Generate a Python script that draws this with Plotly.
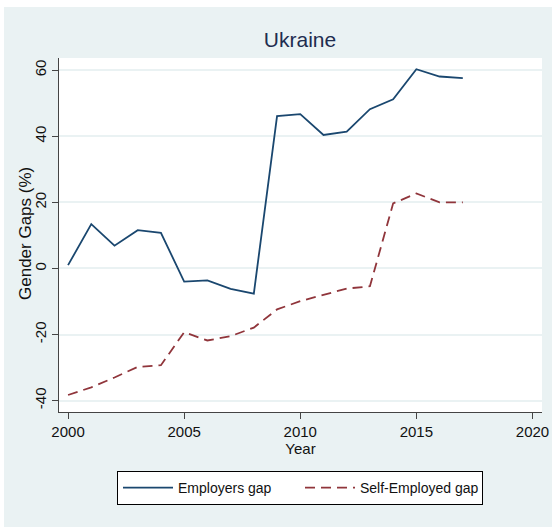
import plotly.graph_objects as go

years = list(range(2000, 2018))
employers_gap = [1.0, 13.4, 6.9, 11.6, 10.8, -4.0, -3.6, -6.2, -7.6, 46.1, 46.7,
                 40.4, 41.4, 48.2, 51.2, 60.3, 58.1, 57.6]
self_employed_gap = [-38.3, -36.0, -33.0, -29.8, -29.3, -19.3, -21.8, -20.5, -17.9,
                     -12.4, -9.9, -8.1, -6.1, -5.4, 19.7, 22.7, 20.0, 20.0]
x_ticks = [2000, 2005, 2010, 2015, 2020]
y_ticks = [-40, -20, 0, 20, 40, 60]
y_tick_text = ["-40", "-20", "0", "20", "40", "60"]

FONT = "Liberation Sans, Arial, sans-serif"
BG = "#EAF2F3"

fig = go.Figure()
fig.add_trace(go.Scatter(x=years, y=employers_gap, mode="lines", name="Employers gap",
                         line=dict(color="#1a476f", width=1.8)))
fig.add_trace(go.Scatter(x=years, y=self_employed_gap, mode="lines", name="Self-Employed gap",
                         line=dict(color="#90353b", width=1.8, dash="10px,6px")))

W, H = 552, 527
L, R, T, B = 59, 10, 58, 115
pw, ph = W - L - R, H - T - B

def px2paper_x(px):
    return (px - L) / pw

def px2paper_y(py):
    return (H - B - py) / ph

fig.add_shape(type="rect", xref="paper", yref="paper", layer="below",
              x0=px2paper_x(4), x1=px2paper_x(553), y0=px2paper_y(528), y1=px2paper_y(7),
              fillcolor=BG, line=dict(width=0))
fig.add_shape(type="rect", xref="paper", yref="paper", layer="below",
              x0=0, x1=1, y0=0, y1=1, fillcolor="white", line=dict(width=0))

fig.add_annotation(text="Gender Gaps (%)", xref="paper", yref="paper",
                   x=px2paper_x(25), y=px2paper_y(234), xanchor="center", yanchor="middle",
                   textangle=-90, showarrow=False,
                   font=dict(size=17, family=FONT, color="#111111"))

fig.update_layout(
    width=W, height=H,
    margin=dict(l=L, r=R, t=T, b=B, autoexpand=False),
    paper_bgcolor="white", plot_bgcolor="white",
    font=dict(family=FONT, size=15, color="#111111"),
    title=dict(text="Ukraine", x=px2paper_x(300), xref="paper", xanchor="center",
               y=1 - 40 / H, yref="container", yanchor="middle",
               font=dict(size=21, color="#1e2d4f", family=FONT)),
    showlegend=True,
    legend=dict(orientation="h", x=px2paper_x(300), xanchor="center", y=px2paper_y(471),
                yanchor="top",
                bgcolor="white", bordercolor="#000000", borderwidth=1,
                font=dict(size=14, family=FONT, color="#111111"),
                entrywidth=117, entrywidthmode="pixels", itemwidth=50),
    xaxis=dict(range=[1999.61, 2020.41], tickvals=x_ticks, ticks="outside", ticklen=6,
               tickcolor="#444444", showline=True, linecolor="#444444", linewidth=1.3,
               showgrid=False, zeroline=False, automargin=False,
               tickfont=dict(size=15, family=FONT),
               title=dict(text="Year", standoff=2, font=dict(size=15, family=FONT))),
    yaxis=dict(range=[-43.45, 63.7], tickvals=y_ticks, ticktext=y_tick_text,
               ticks="outside", ticklen=6,
               tickcolor="#444444", showline=True, linecolor="#444444", linewidth=1.3,
               showgrid=True, gridcolor=BG, gridwidth=1.5, zeroline=False, automargin=False,
               tickangle=-90, tickfont=dict(size=15, family=FONT)),
)

fig.write_html("out.html", config={"displayModeBar": False},
               post_script="document.body.style.margin='0';document.body.style.padding='0';")
